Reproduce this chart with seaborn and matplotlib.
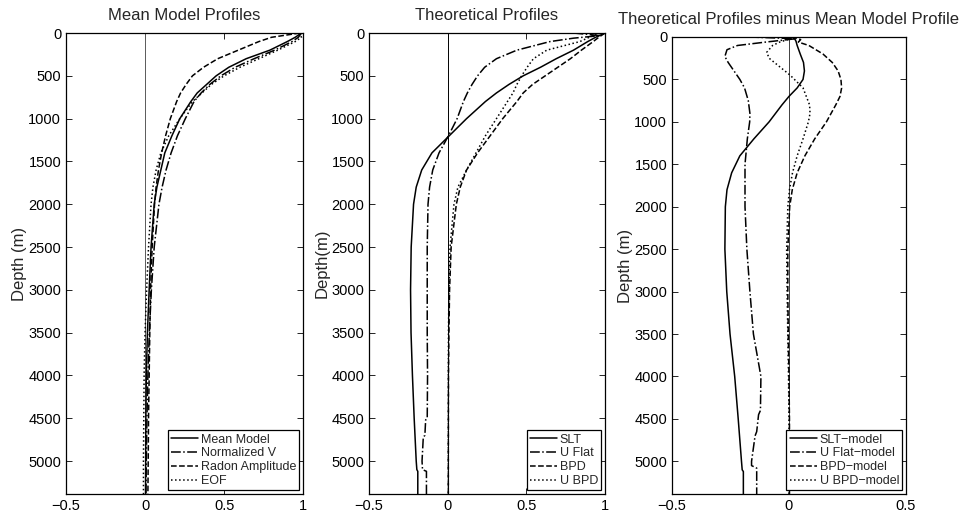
import numpy as np
import pandas as pd
import seaborn as sns
import matplotlib
matplotlib.use("Agg")
import matplotlib.pyplot as plt

# ---- panel 1: mean model profiles ----
depth1 = [0, 50, 100, 200, 300, 400, 500, 600, 700, 800, 1000, 1200, 1400,
          1600, 1800, 2000, 2500, 3000, 3500, 4000, 4500, 5000, 5385]
mean_model = [0.99, 0.95, 0.90, 0.79, 0.64, 0.53, 0.45, 0.39, 0.33, 0.29, 0.22, 0.17, 0.125,
              0.10, 0.075, 0.058, 0.038, 0.026, 0.015, 0.008, 0.005, 0.004, 0.003]
normalized_v = [0.99, 0.97, 0.93, 0.82, 0.69, 0.57, 0.48, 0.41, 0.355, 0.31, 0.255, 0.205, 0.165,
                0.133, 0.108, 0.088, 0.058, 0.04, 0.027, 0.018, 0.012, 0.008, 0.006]
radon_amp = [0.98, 0.80, 0.72, 0.59, 0.46, 0.37, 0.30, 0.26, 0.225, 0.20, 0.16, 0.13, 0.105,
             0.085, 0.07, 0.06, 0.045, 0.035, 0.03, 0.026, 0.022, 0.02, 0.018]
eof = [0.97, 0.99, 0.95, 0.84, 0.72, 0.60, 0.50, 0.42, 0.36, 0.30, 0.22, 0.15, 0.10,
       0.07, 0.05, 0.038, 0.022, 0.01, 0.0, -0.006, -0.008, -0.01, -0.01]

# ---- panel 2: theoretical profiles ----
depth_slt = [0, 50, 100, 200, 300, 400, 500, 600, 700, 800, 1000, 1200, 1400, 1600,
             1800, 2000, 2500, 3000, 3500, 4000, 4500, 5000, 5100, 5120, 5385]
slt = [1.0, 0.94, 0.89, 0.80, 0.69, 0.59, 0.48, 0.39, 0.31, 0.24, 0.12, 0.01, -0.10, -0.165,
       -0.20, -0.217, -0.232, -0.236, -0.233, -0.224, -0.213, -0.20, -0.196, -0.19, -0.19]
depth_uflat = [0, 30, 60, 100, 200, 300, 400, 500, 600, 700, 800, 1000, 1200, 1400, 1600,
               1800, 2000, 2500, 3000, 3500, 4000, 4500, 4520, 4700, 4720, 5000, 5100,
               5120, 5385]
u_flat = [0.80, 0.97, 0.80, 0.65, 0.44, 0.31, 0.235, 0.19, 0.155, 0.125, 0.10, 0.06, 0.005,
          -0.055, -0.095, -0.115, -0.125, -0.13, -0.13, -0.13, -0.128, -0.13, -0.14, -0.145,
          -0.155, -0.163, -0.16, -0.135, -0.135]
depth_bpd = [0, 50, 100, 200, 300, 400, 500, 600, 700, 800, 1000, 1200, 1400, 1600, 1800,
             2000, 2500, 3000, 3500, 4000, 5000, 5385]
bpd = [1.0, 0.96, 0.925, 0.85, 0.78, 0.70, 0.62, 0.54, 0.48, 0.44, 0.35, 0.27, 0.19, 0.12,
       0.08, 0.055, 0.022, 0.012, 0.008, 0.005, 0.004, 0.004]
u_bpd = [0.97, 0.90, 0.84, 0.63, 0.545, 0.505, 0.47, 0.44, 0.415, 0.38, 0.31, 0.24, 0.18,
         0.12, 0.065, 0.04, 0.015, 0.008, 0.005, 0.004, 0.004, 0.004]

# ---- panel 3: theoretical minus mean model ----
depth_slt_m = [0, 50, 100, 200, 300, 400, 500, 600, 700, 800, 1000, 1200, 1400, 1600, 1800,
               2000, 2500, 3000, 3500, 4000, 4500, 5000, 5100, 5120, 5385]
slt_model = [0.02, 0.03, 0.035, 0.048, 0.062, 0.066, 0.06, 0.035, 0.0, -0.03, -0.085, -0.15,
             -0.21, -0.245, -0.265, -0.272, -0.274, -0.266, -0.252, -0.232, -0.217, -0.203,
             -0.20, -0.195, -0.195]
depth_uflat_m = [0, 20, 60, 100, 150, 230, 300, 400, 500, 600, 750, 900, 1000, 1200, 1500,
                 2000, 2500, 3000, 3500, 4000, 4400, 4450, 4650, 4700, 5000, 5050, 5080, 5385]
u_flat_model = [-0.17, 0.03, -0.10, -0.22, -0.265, -0.274, -0.26, -0.235, -0.21, -0.19,
                -0.174, -0.167, -0.168, -0.178, -0.188, -0.188, -0.18, -0.167, -0.152, -0.12,
                -0.122, -0.13, -0.138, -0.145, -0.16, -0.16, -0.138, -0.138]
depth_bpd_m = [0, 30, 60, 100, 200, 300, 400, 500, 600, 700, 800, 1000, 1200, 1400, 1600,
               1800, 2000, 2500, 3000, 3500, 4000, 4500, 5385]
bpd_model = [0.01, 0.05, 0.04, 0.085, 0.145, 0.185, 0.21, 0.222, 0.225, 0.218, 0.20, 0.16,
             0.11, 0.068, 0.035, 0.014, 0.003, -0.005, -0.005, -0.003, 0.0, 0.002, 0.002]
depth_ubpd_m = [0, 30, 60, 100, 180, 250, 350, 450, 600, 800, 900, 1000, 1200, 1400, 1600,
                1800, 2000, 2500, 3000, 3500, 4000, 4500, 5385]
u_bpd_model = [-0.02, -0.005, -0.04, -0.07, -0.095, -0.085, -0.04, 0.005, 0.06, 0.088, 0.09,
               0.083, 0.06, 0.035, 0.015, 0.002, -0.005, -0.01, -0.008, -0.005, -0.002, 0.0,
               0.0]

depth_ticks = [0, 500, 1000, 1500, 2000, 2500, 3000, 3500, 4000, 4500, 5000]
xticks_12 = [-0.5, 0, 0.5, 1]
xlabels_12 = ["\u22120.5", "0", "0.5", "1"]
xticks_3 = [-0.5, 0, 0.5]
xlabels_3 = ["\u22120.5", "0", "0.5"]

sns.set_style("ticks")
plt.rcParams["font.family"] = ["Liberation Sans", "DejaVu Sans"]

fig = plt.figure(figsize=(9.64, 5.16), dpi=100)

panels = [
    {
        "rect": [0.0685, 0.0426, 0.2459, 0.8934],
        "title": "Mean Model Profiles",
        "ylabel": "Depth (m)",
        "xlim": (-0.5, 1), "xticks": xticks_12, "xlabels": xlabels_12,
        "zero": "0.35",
        "series": [
            (depth1, mean_model, "-", "Mean Model"),
            (depth1, normalized_v, "-.", "Normalized V"),
            (depth1, radon_amp, "--", "Radon Amplitude"),
            (depth1, eof, ":", "EOF"),
        ],
    },
    {
        "rect": [0.3828, 0.0426, 0.2448, 0.8934],
        "title": "Theoretical Profiles",
        "ylabel": "Depth(m)",
        "xlim": (-0.5, 1), "xticks": xticks_12, "xlabels": xlabels_12,
        "zero": "k",
        "series": [
            (depth_slt, slt, "-", "SLT"),
            (depth_uflat, u_flat, "-.", "U Flat"),
            (depth_bpd, bpd, "--", "BPD"),
            (depth_bpd, u_bpd, ":", "U BPD"),
        ],
    },
    {
        "rect": [0.6971, 0.0426, 0.2427, 0.8857],
        "title": "Theoretical Profiles minus Mean Model Profile",
        "ylabel": "Depth (m)",
        "xlim": (-0.5, 0.5), "xticks": xticks_3, "xlabels": xlabels_3,
        "zero": "0.25",
        "series": [
            (depth_slt_m, slt_model, "-", "SLT\u2212model"),
            (depth_uflat_m, u_flat_model, "-.", "U Flat\u2212model"),
            (depth_bpd_m, bpd_model, "--", "BPD\u2212model"),
            (depth_ubpd_m, u_bpd_model, ":", "U BPD\u2212model"),
        ],
    },
]

for p in panels:
    ax = fig.add_axes(p["rect"])
    ax.axvline(0, color=p["zero"], lw=0.7, zorder=1)
    for depth, vals, ls, name in p["series"]:
        sns.lineplot(x=vals, y=depth, ax=ax, sort=False, estimator=None,
                     color="k", linestyle=ls, lw=1.1, label=name)
    ax.set_xlim(*p["xlim"])
    ax.set_ylim(5385, 0)
    ax.set_xticks(p["xticks"])
    ax.set_xticklabels(p["xlabels"])
    ax.set_yticks(depth_ticks)
    ax.set_yticklabels([str(t) for t in depth_ticks])
    ax.tick_params(direction="in", top=True, right=True, length=4, width=0.6,
                   labelsize=10.5, colors="k")
    for s in ax.spines.values():
        s.set_linewidth(0.9)
        s.set_color("k")
    ax.set_title(p["title"], fontsize=12, pad=9.5)
    ax.set_ylabel(p["ylabel"], fontsize=12, labelpad=1)
    ax.set_xlabel("")
    leg = ax.legend(loc="lower right", fontsize=9, handlelength=2.2,
                    handletextpad=0.2, labelspacing=0.15, borderpad=0.25,
                    borderaxespad=0.3, fancybox=False, framealpha=1,
                    edgecolor="k")
    leg.get_frame().set_linewidth(0.9)

fig.savefig("out.png", dpi=100)
